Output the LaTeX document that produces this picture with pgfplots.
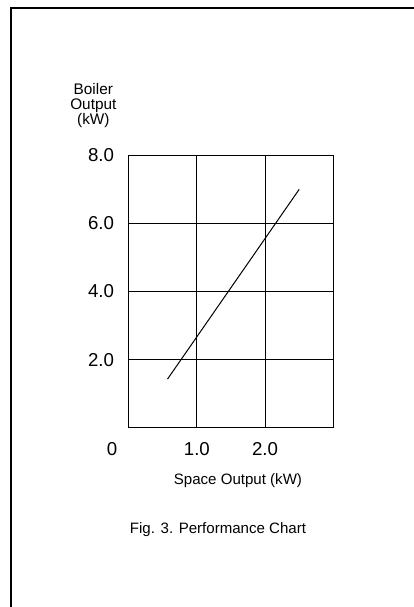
\documentclass[border=0pt]{standalone}
\usepackage{pgfplots}
\pgfplotsset{compat=1.18}
\usepackage{fontspec}
\setmainfont{Liberation Sans}
\begin{document}
\begin{tikzpicture}
\useasboundingbox (0,0) rectangle (310.5pt,-455.25pt);
% page frame (top and left edges)
\draw[line width=1.5pt, line join=miter] (8.25pt,-470pt) -- (8.25pt,-6.2pt) -- (320pt,-6.2pt);
\begin{axis}[
  at={(96.5pt,-320.8pt)}, anchor=south west,
  scale only axis, width=153.45pt, height=204.3pt,
  xmin=0, xmax=3, ymin=0, ymax=8,
  xtick={1,2}, xticklabels={1.0,2.0},
  ytick={2,4,6,8}, yticklabels={2.0,4.0,6.0,8.0},
  extra x ticks={0}, extra x tick labels={0},
  extra x tick style={xticklabel style={xshift=-12.5pt}},
  /pgf/number format/assume math mode=true,
  major tick length=0pt,
  grid=major,
  grid style={black, line width=0.75pt},
  axis line style={black, line width=0.75pt},
  tick label style={font=\fontsize{14}{16.8}\selectfont},
  xticklabel style={anchor=base, inner sep=0pt, yshift=-20.5pt},
  yticklabel style={anchor=east, inner sep=0pt, xshift=-10.8pt},
  xlabel={Space Output (kW)},
  xlabel style={font=\fontsize{11.3}{13}\selectfont, at={(axis description cs:0.5,0)}, anchor=base, inner sep=0pt, xshift=5.25pt, yshift=-42.2pt},
  ylabel={Boiler\\Output\\(kW)},
  ylabel style={font=\fontsize{11.5}{11.2}\selectfont, align=center, rotate=-90, at={(axis description cs:0,1)}, anchor=center, inner sep=0pt, xshift=-26.5pt, yshift=37.5pt},
]
\addplot[black, line width=0.75pt] coordinates {(0.57,1.43) (2.5,7.0)};
\end{axis}
\node[anchor=base, inner sep=0pt, font=\fontsize{11.3}{13}\selectfont] at (163.5pt,-400pt) {Fig. 3. Performance Chart};
\end{tikzpicture}
\end{document}
